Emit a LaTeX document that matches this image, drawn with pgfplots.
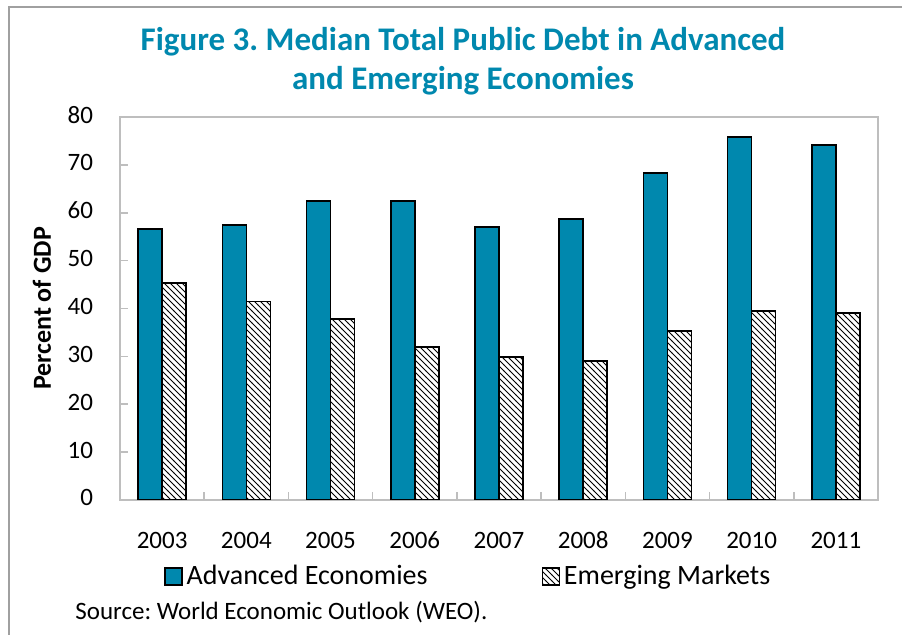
\documentclass[border=0pt]{standalone}
\usepackage{fontspec}
\setmainfont{Carlito}
\usepackage{pgfplots}
\pgfplotsset{compat=1.18}
\usetikzlibrary{patterns}
\definecolor{imfteal}{RGB}{0,136,174}
\definecolor{axgray}{RGB}{190,190,190}
\frenchspacing
\begin{document}
\begin{tikzpicture}
\path[use as bounding box] (0pt,0pt) rectangle (451pt,-317.5pt);
\draw[color={rgb,255:red,160;green,160;blue,160}, line width=1pt] (4.5pt,-317.5pt) -- (4.5pt,-3.5pt) -- (451pt,-3.5pt);
\node[font=\fontsize{16.5}{19.5}\selectfont\bfseries, text=imfteal, align=center] at (231.5pt,-30.5pt)
  {Figure 3. Median Total Public Debt in Advanced\\and Emerging Economies};
\node[font=\fontsize{12.5}{15}\selectfont, anchor=base west, inner sep=0pt] at (37.5pt,-310pt) {Source: World Economic Outlook (WEO).};
\begin{axis}[
  at={(60pt,-250pt)}, anchor=south west,
  scale only axis, width=379pt, height=191.5pt,
  ybar=0pt, bar width=12pt,
  xmin=-0.5, xmax=8.5, ymin=0, ymax=80,
  xtick={0,...,8},
  xticklabels={2003,2004,2005,2006,2007,2008,2009,2010,2011},
  typeset ticklabels with strut,
  major x tick style={draw=none},
  minor xtick={0.5,1.5,...,7.5},
  minor tick length=4pt, major tick length=4pt,
  minor x tick style={axgray, line width=0.8pt},
  ytick={0,10,...,80},
  y tick style={axgray, line width=0.8pt},
  tick align=inside,
  xtick pos=bottom, ytick pos=left,
  axis line style={axgray, line width=0.8pt},
  tick label style={font=\fontsize{12.5}{15}\selectfont},
  /pgf/number format/assume math mode=true,
  yticklabel style={xshift=-10pt},
  xticklabel style={yshift=-10pt},
  ylabel={Percent of GDP},
  every axis y label/.style={at={(axis description cs:-0.103,0.5)}, rotate=90, anchor=center,
    font=\fontsize{13}{15}\selectfont\bfseries},
  legend columns=2,
  legend style={draw=none, fill=none, at={(0.05,-0.2)}, anchor=west,
    font=\fontsize{14}{16}\selectfont,
    /tikz/every even column/.append style={column sep=55pt},
    /tikz/every odd column/.append style={column sep=0pt}},
  legend image code/.code={\draw[#1, line width=0.7pt] (0pt,-4.2pt) rectangle (8.5pt,4.2pt);},
]
\addplot[fill=imfteal, draw=black, line width=0.8pt] coordinates {
  (0,56.6) (1,57.4) (2,62.4) (3,62.4) (4,57.0) (5,58.7) (6,68.3) (7,75.8) (8,74.1)};
\addplot[pattern=north west lines, draw=black, line width=0.8pt] coordinates {
  (0,45.3) (1,41.5) (2,37.8) (3,31.9) (4,29.9) (5,29.0) (6,35.3) (7,39.5) (8,39.0)};
\legend{Advanced Economies, Emerging Markets}
\end{axis}
\end{tikzpicture}
\end{document}
